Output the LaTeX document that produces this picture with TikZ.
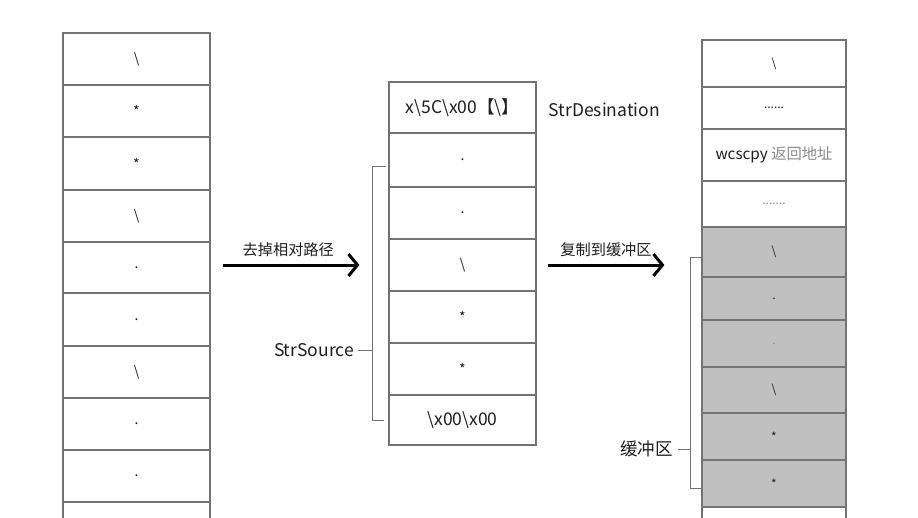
\documentclass[tikz,border=0pt]{standalone}
\usepackage{fontspec}
\newfontfamily\cjk{Noto Sans CJK SC}
\usetikzlibrary{arrows.meta}
\definecolor{bordergray}{RGB}{115,115,115}
\definecolor{fillgray}{RGB}{192,192,192}
\definecolor{txt}{RGB}{30,30,30}
\definecolor{lighttxt}{RGB}{140,140,140}
\begin{document}
\begin{tikzpicture}[x=1pt,y=-1pt,
  cell/.style={draw=bordergray, line width=1.2pt, inner sep=0pt, text=txt,
    font=\cjk\fontsize{14}{16}\selectfont},
  lcell/.style={cell, minimum width=147pt},
  mcell/.style={cell, minimum width=147pt},
  rcell/.style={cell, minimum width=144pt, font=\cjk\fontsize{12}{14}\selectfont},
  gcell/.style={rcell, fill=fillgray},
  lbl/.style={font=\cjk\fontsize{17.5}{20}\selectfont, text=txt, inner sep=0pt},
  arrlbl/.style={font=\cjk\fontsize{15.2}{17}\selectfont, text=txt, inner sep=0pt},
  brk/.style={draw=bordergray, line width=1pt},
  bigarrow/.style={line width=3pt, -{Straight Barb[length=9pt,width=22pt,line width=3pt]}}
]
\clip (0,0) rectangle (918,517);
\fill[white] (0,0) rectangle (918,517);

% left column
\node[lcell, minimum height=52pt] (L1)  at (136.5,59)   {\textbackslash};
\node[lcell, minimum height=52pt] (L2)  at (136.5,111)  {*};
\node[lcell, minimum height=53pt] (L3)  at (136.5,163.5){*};
\node[lcell, minimum height=52pt] (L4)  at (136.5,216)  {\textbackslash};
\node[lcell, minimum height=51pt] (L5)  at (136.5,267.5){.};
\node[lcell, minimum height=53pt] (L6)  at (136.5,319.5){.};
\node[lcell, minimum height=52pt] (L7)  at (136.5,372)  {\textbackslash};
\node[lcell, minimum height=52pt] (L8)  at (136.5,424)  {.};
\node[lcell, minimum height=52pt] (L9)  at (136.5,476)  {.};
\node[lcell, minimum height=52pt] (L10) at (136.5,528)  {};

% middle column
\node[mcell, minimum height=51pt] (M1) at (462.5,107.5) {\fontsize{17.5}{20}\selectfont x\textbackslash 5C\textbackslash x00【\textbackslash】};
\node[mcell, minimum height=54pt] (M2) at (462.5,160)   {.};
\node[mcell, minimum height=52pt] (M3) at (462.5,213)   {.};
\node[mcell, minimum height=52pt] (M4) at (462.5,265)   {\textbackslash};
\node[mcell, minimum height=52pt] (M5) at (462.5,317)   {*};
\node[mcell, minimum height=52pt] (M6) at (462.5,369)   {*};
\node[mcell, minimum height=50pt] (M7) at (462.5,420)   {\fontsize{17.5}{20}\selectfont\textbackslash x00\textbackslash x00};

% right column
\node[rcell, minimum height=47pt] (R1)  at (774,63.5)  {\textbackslash};
\node[rcell, minimum height=42pt] (R2)  at (774,108)   {......};
\node[rcell, minimum height=52pt] (R3)  at (774,155)   {\fontsize{15.3}{18}\selectfont wcscpy \textcolor{lighttxt}{返回地址}};
\node[rcell, minimum height=46pt, text=lighttxt] (R4) at (774,204) {.......};
\node[gcell, minimum height=50pt] (R5)  at (774,252)   {\textbackslash};
\node[gcell, minimum height=43pt] (R6)  at (774,298.5) {.};
\node[gcell, minimum height=47pt, text=lighttxt] (R7) at (774,343.5) {.};
\node[gcell, minimum height=46pt] (R8)  at (774,390)   {\textbackslash};
\node[gcell, minimum height=47pt] (R9)  at (774,436.5) {*};
\node[gcell, minimum height=47pt] (R10) at (774,483.5) {*};
\node[rcell, minimum height=53pt] (R11) at (774,533.5) {};

% labels
\node[lbl, anchor=west] (dst) at ([xshift=12pt,yshift=-2pt]M1.east) {StrDesination};
\node[lbl, anchor=east] (src) at (354,350) {StrSource};
\node[lbl, anchor=east] (buf) at (673,449) {缓冲区};

% brackets
\coordinate (srcJ) at (373,350);
\draw[brk] ([xshift=-2pt,yshift=-6pt]M2.west) -- ++(-14,0) |- ([xshift=-4pt]M7.west);
\draw[brk] ([xshift=4pt]src.east) -- (srcJ);
\coordinate (bufJ) at (691,449);
\draw[brk] ([yshift=-5pt]R5.west) -- ++(-11,0) |- ([yshift=-4.5pt]R10.west);
\draw[brk] ([xshift=5pt]buf.east) -- (bufJ);

% arrows
\draw[bigarrow] (L5.east |- M4.west) ++(12,0) -- ([xshift=-29pt]M4.west)
  node[arrlbl, pos=0.48, above=7pt] (a1) {去掉相对路径};
\draw[bigarrow] ([xshift=11pt]M4.east) -- ([xshift=-37pt]R5.west |- M4.east)
  node[arrlbl, midway, above=7pt] (a2) {复制到缓冲区};
\end{tikzpicture}
\end{document}
